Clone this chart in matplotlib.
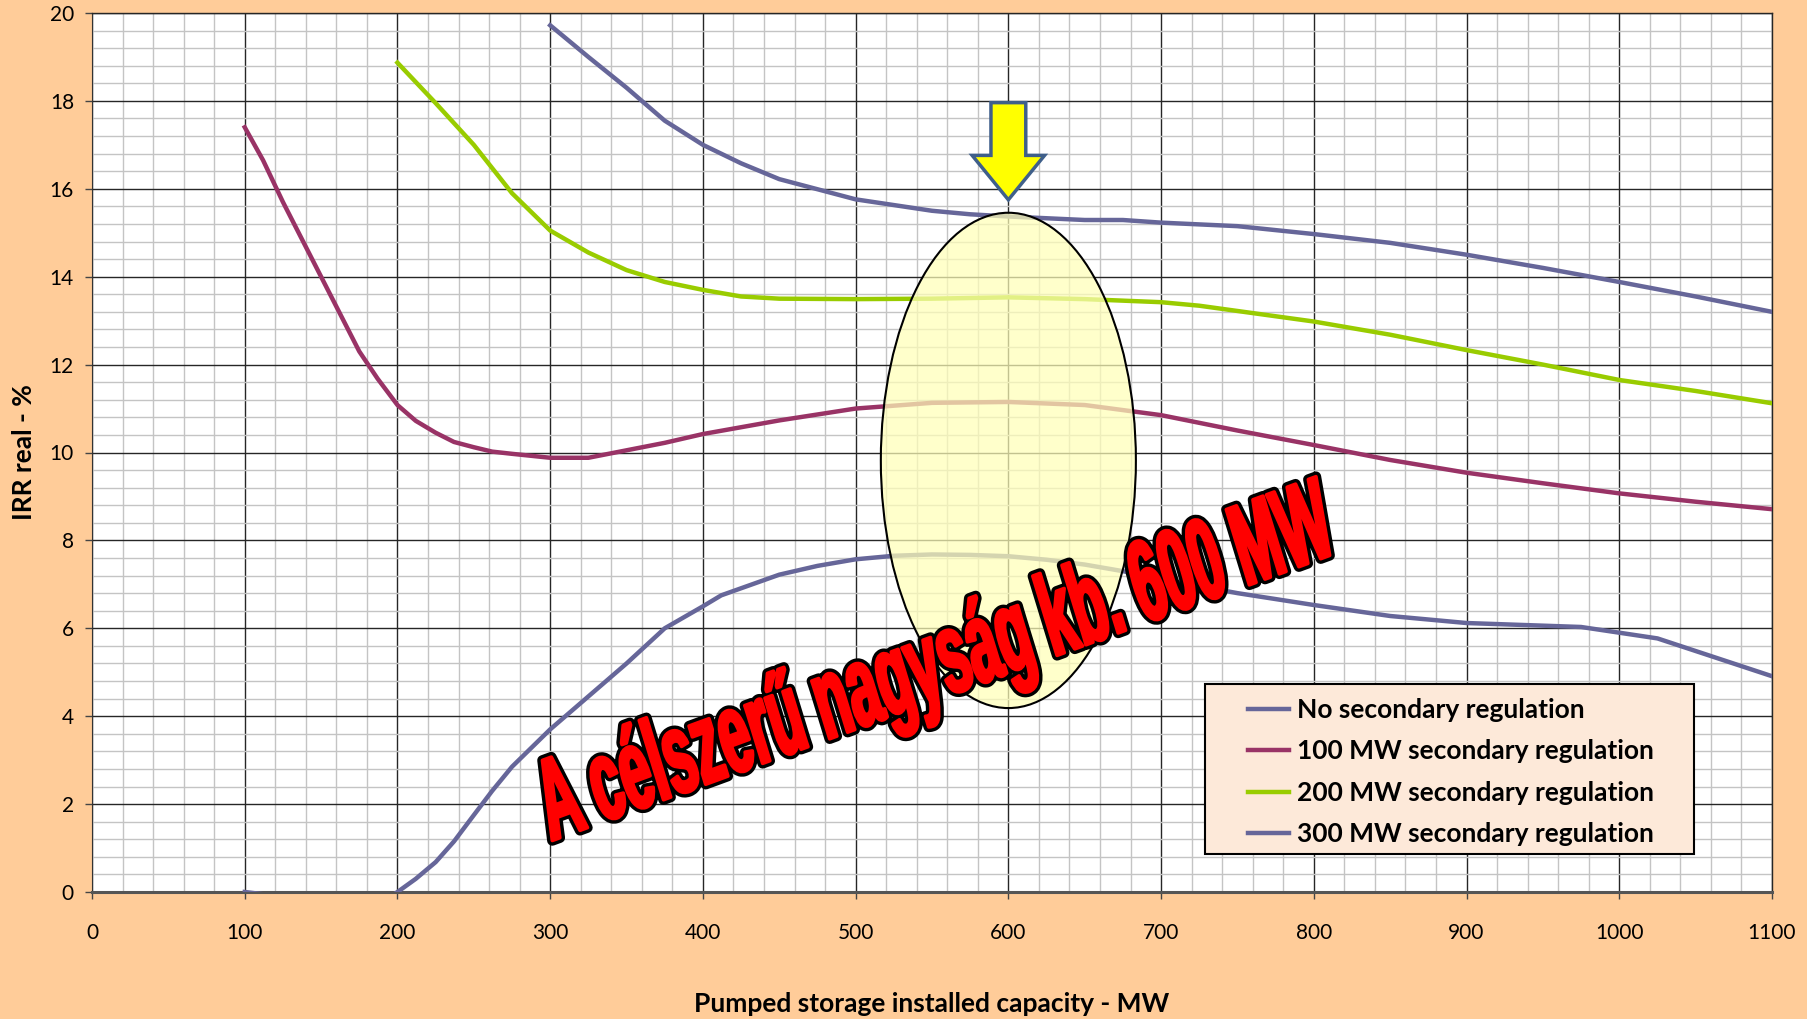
import matplotlib
matplotlib.use("Agg")
import matplotlib.pyplot as plt
from matplotlib.patches import Ellipse, Polygon, PathPatch, Rectangle
from matplotlib.textpath import TextPath
from matplotlib.font_manager import FontProperties
from matplotlib.transforms import Affine2D
from matplotlib.ticker import MultipleLocator
import numpy as np

plt.rcParams['font.family'] = ['Lato', 'DejaVu Sans']

# ---------------- data ----------------
x_none = [100, 112, 125, 150, 175, 200, 212, 225, 237, 250, 262, 275, 300, 325, 350,
          375, 400, 412, 450, 475, 500, 525, 550, 575, 600, 625, 650, 675, 700, 750,
          800, 850, 900, 975, 1025, 1100]
y_none = [0.0, -0.05, -0.6, -1.0, -0.6, 0.0, 0.30, 0.68, 1.15, 1.75, 2.3, 2.85, 3.7, 4.45, 5.2,
          6.0, 6.5, 6.75, 7.22, 7.42, 7.57, 7.65, 7.68, 7.67, 7.64, 7.56, 7.45, 7.3, 7.12, 6.8,
          6.53, 6.28, 6.12, 6.03, 5.77, 4.91]

x_100 = [100, 112, 125, 150, 175, 187, 200, 212, 225, 237, 250, 262, 275, 300, 325, 350,
         375, 400, 450, 500, 550, 600, 650, 700, 750, 800, 850, 900, 950, 1000, 1050, 1100]
y_100 = [17.40, 16.65, 15.7, 14.0, 12.3, 11.68, 11.08, 10.72, 10.45, 10.24, 10.12, 10.02, 9.97,
         9.88, 9.88, 10.05, 10.22, 10.42, 10.73, 11.0, 11.13, 11.15, 11.08, 10.85, 10.5, 10.17,
         9.83, 9.54, 9.3, 9.07, 8.88, 8.71]

x_200 = [200, 225, 250, 275, 300, 325, 350, 375, 400, 425, 450, 500, 550, 600, 650, 700, 725,
         750, 800, 850, 900, 950, 1000, 1050, 1100]
y_200 = [18.87, 17.95, 17.0, 15.9, 15.05, 14.55, 14.15, 13.88, 13.7, 13.55, 13.5, 13.49, 13.5,
         13.53, 13.49, 13.42, 13.34, 13.22, 12.98, 12.68, 12.33, 12.0, 11.65, 11.4, 11.12]

x_300 = [300, 325, 350, 375, 400, 425, 450, 500, 550, 575, 600, 625, 650, 675, 700, 750, 800,
         850, 900, 950, 1000, 1050, 1100]
y_300 = [19.72, 19.0, 18.3, 17.55, 17.0, 16.58, 16.22, 15.76, 15.5, 15.42, 15.37, 15.33, 15.29,
         15.29, 15.23, 15.15, 14.97, 14.77, 14.5, 14.2, 13.88, 13.55, 13.2]

series_labels = ["No secondary regulation", "100 MW secondary regulation",
                 "200 MW secondary regulation", "300 MW secondary regulation"]
series_colors = ["#666699", "#993366", "#99CC00", "#666699"]

x_ticks = list(range(0, 1101, 100))
y_ticks = list(range(0, 21, 2))

annotation = "A célszerű nagyság kb. 600 MW"
optimum_x = 600

# ---------------- figure ----------------
W, H = 1807, 1019
fig = plt.figure(figsize=(W / 100, H / 100), dpi=100, facecolor="#FFCC99")
ax_l, ax_r, ax_t, ax_b = 92, 1772, 13, 892
ax = fig.add_axes([ax_l / W, 1 - ax_b / H, (ax_r - ax_l) / W, (ax_b - ax_t) / H])
ax.set_facecolor("white")
ax.set_xlim(0, 1100)
ax.set_ylim(0, 20)
ax.set_xticks(x_ticks)
ax.set_yticks(y_ticks)
ax.xaxis.set_minor_locator(MultipleLocator(20))
ax.yaxis.set_minor_locator(MultipleLocator(0.4))
ax.grid(which="minor", color="#C4C4C4", lw=1.0)
ax.grid(which="major", color="#262626", lw=1.0)
ax.set_axisbelow(True)
ax.tick_params(which="minor", length=0)
ax.tick_params(which="major", length=5, width=1, color="#444444", labelsize=15)
ax.tick_params(axis="x", pad=17)
ax.tick_params(axis="y", pad=8)
for s in ["top", "right"]:
    ax.spines[s].set_color("#262626")
    ax.spines[s].set_linewidth(1.0)
ax.spines["left"].set_color("#333333")
ax.spines["bottom"].set_color("#555555")
ax.spines["bottom"].set_linewidth(2.2)

xs = [x_none, x_100, x_200, x_300]
ys = [y_none, y_100, y_200, y_300]
handles = []
for x, y, c, lab in zip(xs, ys, series_colors, series_labels):
    h, = ax.plot(x, y, color=c, lw=3.2, label=lab, zorder=3, solid_joinstyle="round")
    handles.append(h)

# ellipse highlighting the optimum
ell = Ellipse((optimum_x, 9.82), width=167, height=11.27, facecolor=(1.0, 1.0, 0.72, 0.72),
              edgecolor="black", lw=1.5, zorder=4)
ax.add_patch(ell)

# arrow
sw, hw = 11.4, 23.7
top, base, tip = 17.96, 16.76, 15.75
arrow = Polygon([(optimum_x - sw, top), (optimum_x + sw, top), (optimum_x + sw, base),
                 (optimum_x + hw, base), (optimum_x, tip), (optimum_x - hw, base),
                 (optimum_x - sw, base)], closed=True, facecolor="#FFFF00",
                edgecolor="#3F5F8A", lw=2.5, zorder=5, joinstyle="miter")
ax.add_patch(arrow)

# WordArt-like slanted text
fp = FontProperties(family="Liberation Sans", weight="bold")
tp = TextPath((0, 0), annotation, size=100, prop=fp)
ext = tp.get_extents()
path_w = ext.x1
cap = 71.6
start = np.array([551.0, H - 841.0])
end = np.array([1339.0, H - 552.0])
vec = end - start
L = np.hypot(*vec)
ang = np.arctan2(vec[1], vec[0])
e1 = np.array([np.cos(ang), np.sin(ang)]) * (L / path_w)
lean = np.deg2rad(17)
e2 = np.array([-np.sin(lean), np.cos(lean)]) * (82.0 / cap)
M = np.array([[e1[0], e2[0], start[0]], [e1[1], e2[1], start[1]], [0, 0, 1]])
tr = Affine2D(M).scale(1 / 100.0) + fig.dpi_scale_trans
txt_outline = PathPatch(tp, transform=tr, facecolor="black", edgecolor="black", lw=7.5,
                        zorder=6, joinstyle="round")
txt_fill = PathPatch(tp, transform=tr, facecolor="#FF0000", edgecolor="#FF0000", lw=2.6,
                     zorder=6.1, joinstyle="round")
fig.add_artist(txt_outline)
fig.add_artist(txt_fill)

# legend
lx0, ly0, lx1, ly1 = 1205, 684, 1694, 854
ax.add_patch(Rectangle(((lx0 - ax_l) / (ax_r - ax_l), (ax_b - ly1) / (ax_b - ax_t)),
                       (lx1 - lx0) / (ax_r - ax_l), (ly1 - ly0) / (ax_b - ax_t),
                       transform=ax.transAxes, facecolor="#FDE9D9", edgecolor="black",
                       lw=1.5, zorder=7))
leg = ax.legend(handles, series_labels, loc="upper left",
                bbox_to_anchor=((1248 - ax_l) / (ax_r - ax_l), (ax_b - 698) / (ax_b - ax_t)),
                borderaxespad=0, borderpad=0, frameon=False,
                prop=FontProperties(family="Lato", weight="bold", size=19),
                handlelength=1.55, handletextpad=0.3, labelspacing=0.66)
leg.set_zorder(8)
for lh in leg.get_lines():
    lh.set_linewidth(3.2)

ax.set_xlabel("Pumped storage installed capacity - MW", fontsize=19, fontweight="bold")
ax.xaxis.set_label_coords(0.5, (ax_b - 992) / (ax_b - ax_t))
ax.set_ylabel("IRR real - %", fontsize=19, fontweight="bold")
ax.yaxis.set_label_coords((36 - ax_l) / (ax_r - ax_l), 0.5)

fig.savefig("out.png", dpi=100, facecolor=fig.get_facecolor())
